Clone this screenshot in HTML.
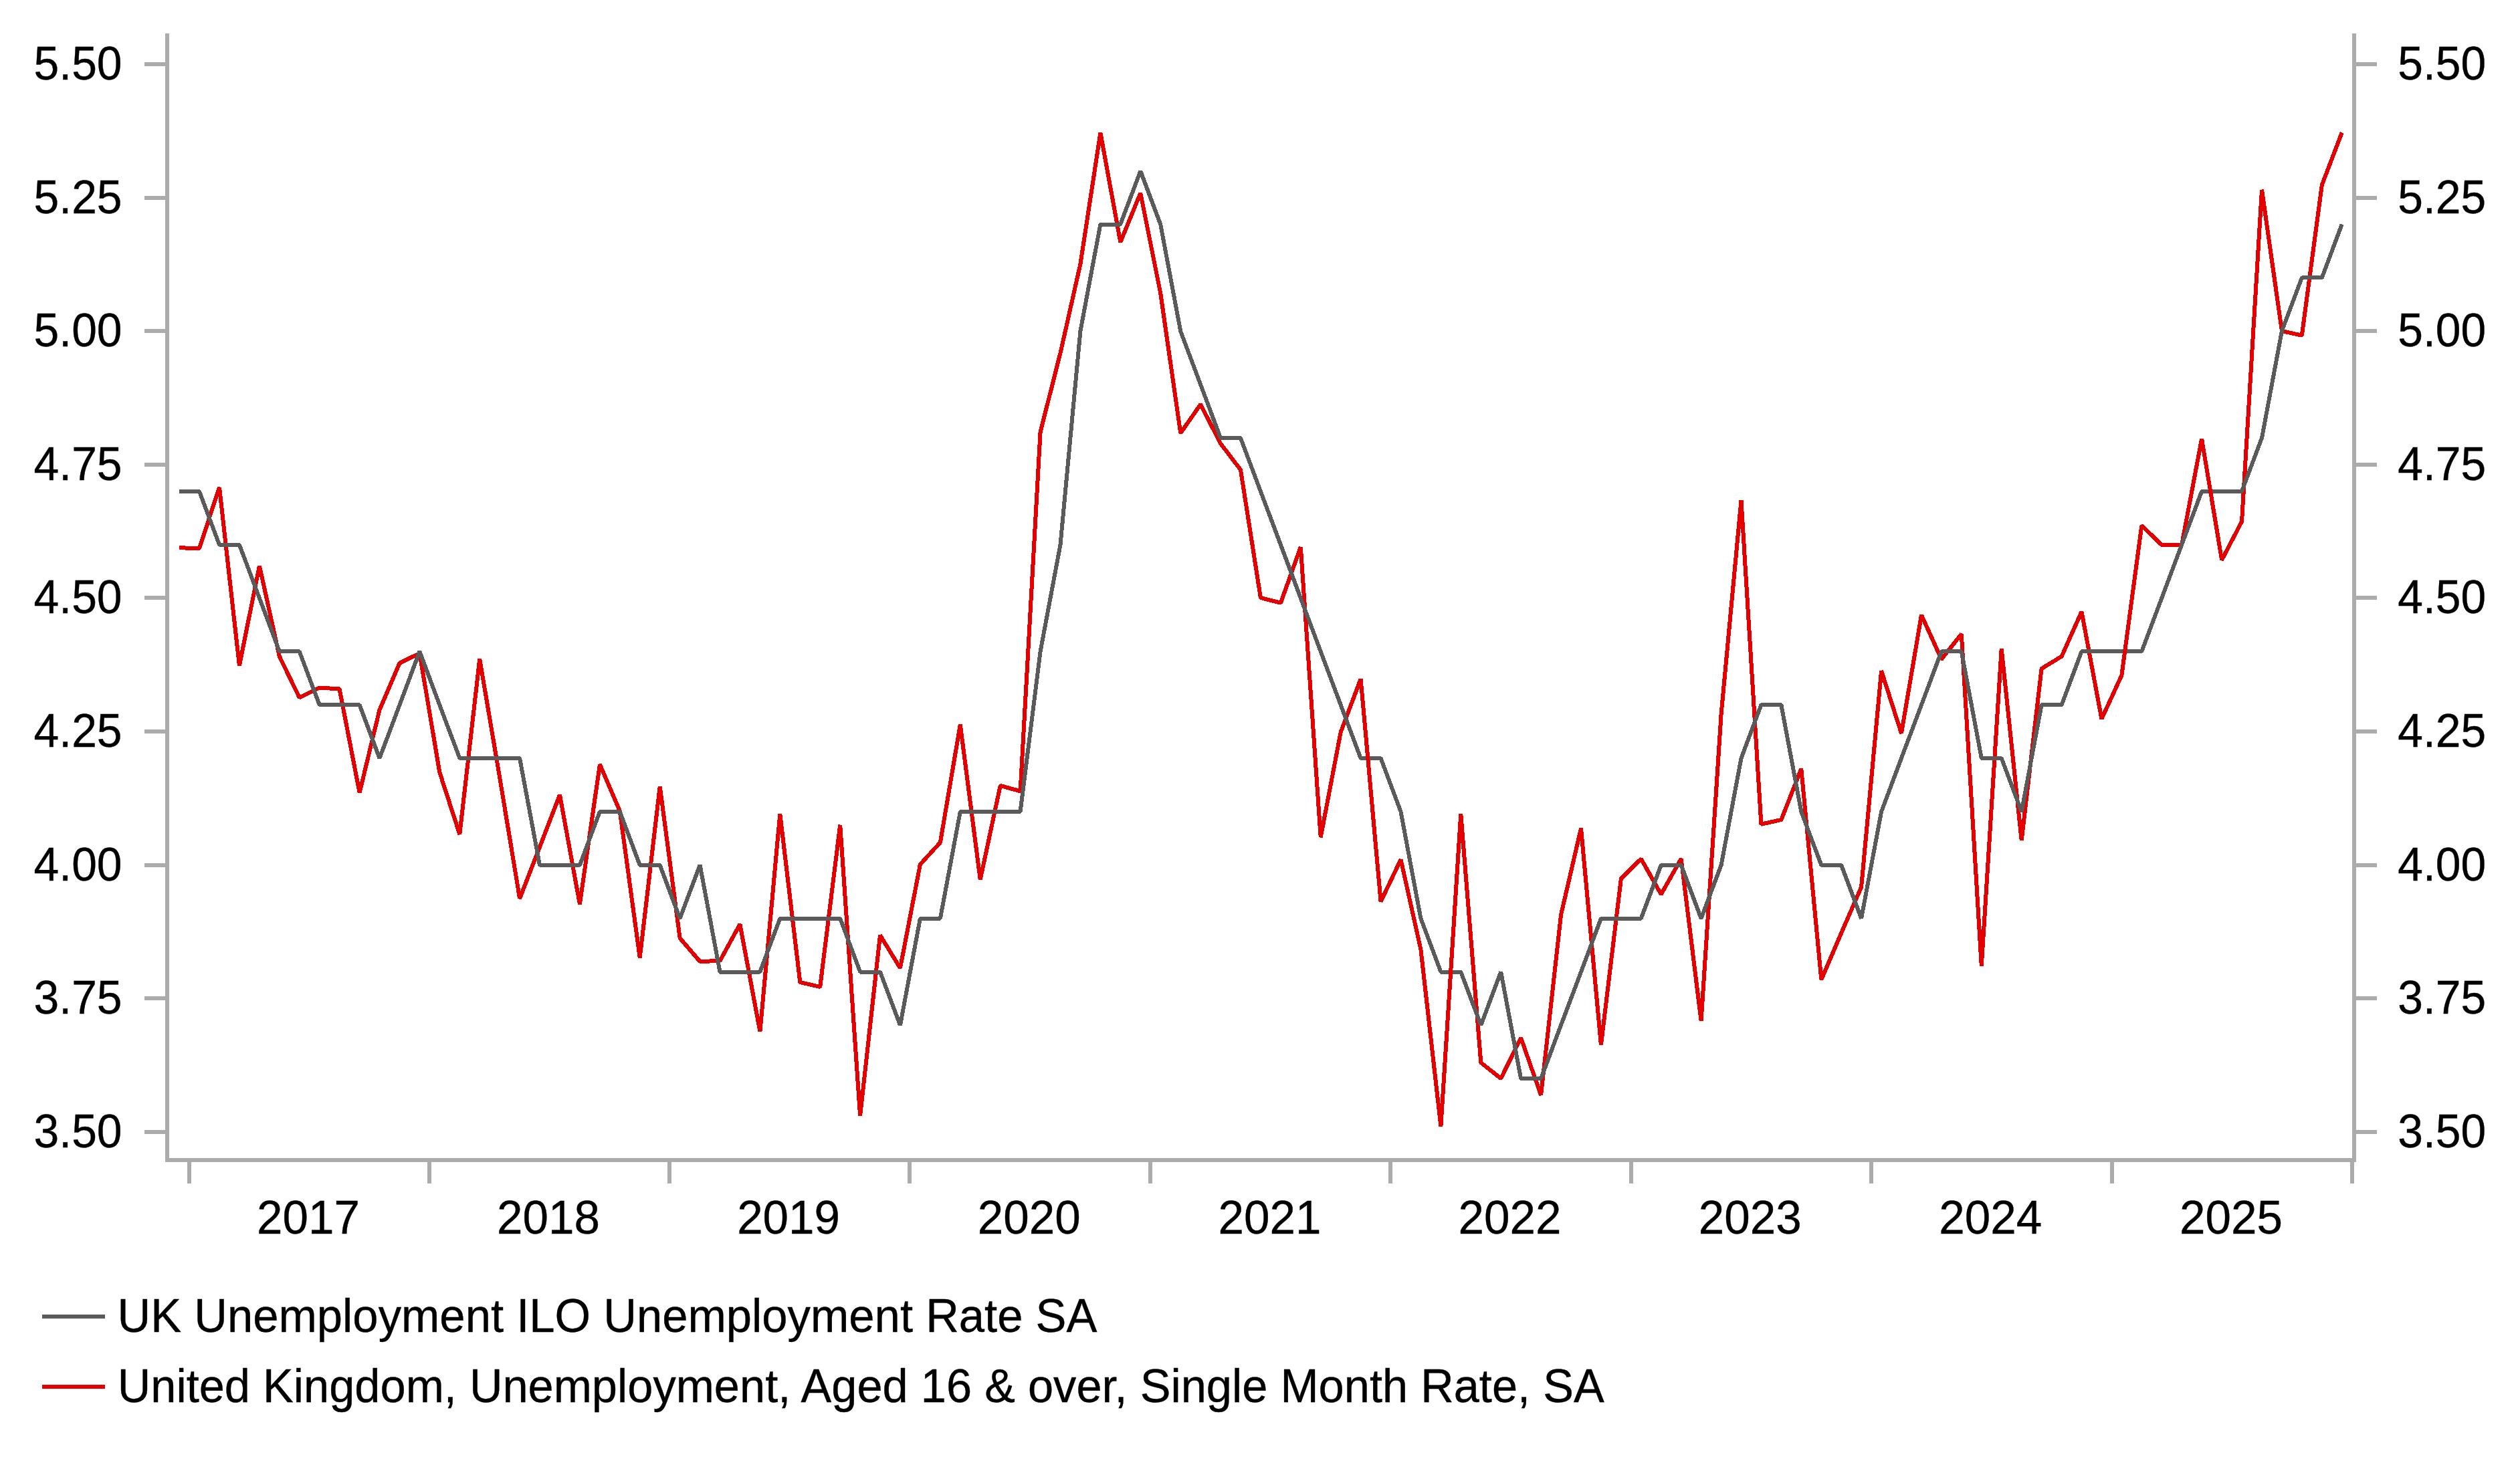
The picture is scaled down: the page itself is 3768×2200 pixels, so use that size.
<!DOCTYPE html>
<html><head><meta charset="utf-8"><title>UK Unemployment</title>
<style>html,body{margin:0;padding:0;background:#fff}body{width:3768px;height:2200px;overflow:hidden}svg{display:block}text{font-family:"Liberation Sans",sans-serif;font-size:69px;fill:#000;stroke:#000;stroke-width:0.4px}</style>
</head><body>
<svg width="3768" height="2200" viewBox="0 0 3768 2200">
<rect x="0" y="0" width="3768" height="2200" fill="#ffffff"/>
<polyline points="268.1,819.3 298.0,820.0 328.0,729.0 357.9,995.5 387.9,846.2 417.8,981.7 447.7,1043.3 477.7,1028.5 507.6,1030.5 537.6,1185.5 567.5,1061.7 597.5,991.7 627.4,977.0 657.3,1155.0 687.3,1247.8 717.2,985.5 747.2,1163.0 777.1,1343.8 807.0,1266.7 837.0,1188.8 866.9,1352.2 896.9,1143.2 926.8,1213.0 956.7,1432.2 986.7,1176.2 1016.6,1403.0 1046.6,1438.0 1076.5,1437.0 1106.4,1382.2 1136.4,1542.8 1166.3,1217.2 1196.3,1469.0 1226.2,1476.0 1256.2,1233.8 1286.1,1668.8 1316.0,1398.8 1346.0,1447.8 1375.9,1292.7 1405.9,1260.0 1435.8,1083.8 1465.7,1315.5 1495.7,1175.0 1525.6,1183.3 1555.6,646.0 1585.5,528.0 1615.4,395.0 1645.4,198.5 1675.3,362.2 1705.3,288.8 1735.2,438.3 1765.2,647.8 1795.1,604.8 1825.0,663.3 1855.0,702.7 1884.9,894.0 1914.9,901.7 1944.8,818.2 1974.7,1252.2 2004.7,1095.0 2034.6,1015.5 2064.6,1348.5 2094.5,1285.5 2124.4,1420.0 2154.4,1684.5 2184.3,1217.2 2214.3,1589.3 2244.2,1613.0 2274.1,1552.2 2304.1,1637.8 2334.0,1368.3 2364.0,1238.8 2393.9,1562.8 2423.9,1314.0 2453.8,1284.5 2483.7,1337.5 2513.7,1284.3 2543.6,1526.8 2573.6,1068.0 2603.5,748.2 2633.4,1232.7 2663.4,1226.0 2693.3,1149.8 2723.3,1465.2 2753.2,1395.3 2783.1,1326.7 2813.1,1003.2 2843.0,1096.8 2873.0,919.8 2902.9,986.0 2932.8,948.2 2962.8,1444.5 2992.7,970.5 3022.7,1256.8 3052.6,1000.0 3082.6,981.7 3112.5,914.8 3142.4,1075.2 3172.4,1010.0 3202.3,786.0 3232.3,815.0 3262.2,815.0 3292.1,656.2 3322.1,837.5 3352.0,780.0 3382.0,283.8 3411.9,495.0 3441.8,501.7 3471.8,276.7 3501.7,198.3" fill="none" stroke="#e40000" stroke-width="6" stroke-linejoin="bevel" stroke-linecap="butt" shape-rendering="crispEdges"/>
<polyline points="268.1,734.8 298.0,734.8 328.0,814.7 357.9,814.7 387.9,894.5 417.8,974.3 447.7,974.3 477.7,1054.2 507.6,1054.2 537.6,1054.2 567.5,1134.0 597.5,1054.2 627.4,974.3 657.3,1054.2 687.3,1134.0 717.2,1134.0 747.2,1134.0 777.1,1134.0 807.0,1293.8 837.0,1293.8 866.9,1293.8 896.9,1213.9 926.8,1213.9 956.7,1293.8 986.7,1293.8 1016.6,1373.6 1046.6,1293.8 1076.5,1453.5 1106.4,1453.5 1136.4,1453.5 1166.3,1373.6 1196.3,1373.6 1226.2,1373.6 1256.2,1373.6 1286.1,1453.5 1316.0,1453.5 1346.0,1533.3 1375.9,1373.6 1405.9,1373.6 1435.8,1213.9 1465.7,1213.9 1495.7,1213.9 1525.6,1213.9 1555.6,974.3 1585.5,814.7 1615.4,495.2 1645.4,335.5 1675.3,335.5 1705.3,255.7 1735.2,335.5 1765.2,495.2 1795.1,575.1 1825.0,655.0 1855.0,655.0 1884.9,734.8 1914.9,814.7 1944.8,894.5 1974.7,974.3 2004.7,1054.2 2034.6,1134.0 2064.6,1134.0 2094.5,1213.9 2124.4,1373.6 2154.4,1453.5 2184.3,1453.5 2214.3,1533.3 2244.2,1453.5 2274.1,1613.1 2304.1,1613.1 2334.0,1533.3 2364.0,1453.5 2393.9,1373.6 2423.9,1373.6 2453.8,1373.6 2483.7,1293.8 2513.7,1293.8 2543.6,1373.6 2573.6,1293.8 2603.5,1134.0 2633.4,1054.2 2663.4,1054.2 2693.3,1213.9 2723.3,1293.8 2753.2,1293.8 2783.1,1373.6 2813.1,1213.9 2843.0,1134.0 2873.0,1054.2 2902.9,974.3 2932.8,974.3 2962.8,1134.0 2992.7,1134.0 3022.7,1213.9 3052.6,1054.2 3082.6,1054.2 3112.5,974.3 3142.4,974.3 3172.4,974.3 3202.3,974.3 3232.3,894.5 3262.2,814.7 3292.1,734.8 3322.1,734.8 3352.0,734.8 3382.0,655.0 3411.9,495.2 3441.8,415.4 3471.8,415.4 3501.7,335.5" fill="none" stroke="#5a5a5a" stroke-width="6" stroke-linejoin="bevel" stroke-linecap="butt" shape-rendering="crispEdges"/>
<clipPath id="c0"><rect x="2034.6" y="1130.0" width="29.9" height="8"/></clipPath>
<line x1="2034.6" y1="1015.5" x2="2064.6" y2="1348.5" stroke="#e40000" stroke-width="6" clip-path="url(#c0)" shape-rendering="crispEdges"/>
<clipPath id="c1"><rect x="2154.4" y="1449.5" width="29.9" height="8"/></clipPath>
<line x1="2154.4" y1="1684.5" x2="2184.3" y2="1217.2" stroke="#e40000" stroke-width="6" clip-path="url(#c1)" shape-rendering="crispEdges"/>
<clipPath id="c2"><rect x="3172.4" y="970.3" width="29.9" height="8"/></clipPath>
<line x1="3172.4" y1="1010.0" x2="3202.3" y2="786.0" stroke="#e40000" stroke-width="6" clip-path="url(#c2)" shape-rendering="crispEdges"/>
<clipPath id="c3"><rect x="3292.1" y="730.8" width="29.9" height="8"/></clipPath>
<line x1="3292.1" y1="656.2" x2="3322.1" y2="837.5" stroke="#e40000" stroke-width="6" clip-path="url(#c3)" shape-rendering="crispEdges"/>
<g fill="#ababab" shape-rendering="crispEdges">
<rect x="247" y="50" width="6" height="1688"/>
<rect x="3517" y="50" width="6" height="1688"/>
<rect x="247" y="1732" width="3276" height="6"/>
<rect x="216" y="93" width="32" height="6"/>
<rect x="3522" y="93" width="32" height="6"/>
<rect x="216" y="293" width="32" height="6"/>
<rect x="3522" y="293" width="32" height="6"/>
<rect x="216" y="492" width="32" height="6"/>
<rect x="3522" y="492" width="32" height="6"/>
<rect x="216" y="692" width="32" height="6"/>
<rect x="3522" y="692" width="32" height="6"/>
<rect x="216" y="891" width="32" height="6"/>
<rect x="3522" y="891" width="32" height="6"/>
<rect x="216" y="1091" width="32" height="6"/>
<rect x="3522" y="1091" width="32" height="6"/>
<rect x="216" y="1291" width="32" height="6"/>
<rect x="3522" y="1291" width="32" height="6"/>
<rect x="216" y="1490" width="32" height="6"/>
<rect x="3522" y="1490" width="32" height="6"/>
<rect x="216" y="1690" width="32" height="6"/>
<rect x="3522" y="1690" width="32" height="6"/>
<rect x="280" y="1737" width="6" height="33"/>
<rect x="639" y="1737" width="6" height="33"/>
<rect x="998" y="1737" width="6" height="33"/>
<rect x="1357" y="1737" width="6" height="33"/>
<rect x="1717" y="1737" width="6" height="33"/>
<rect x="2076" y="1737" width="6" height="33"/>
<rect x="2436" y="1737" width="6" height="33"/>
<rect x="2795" y="1737" width="6" height="33"/>
<rect x="3155" y="1737" width="6" height="33"/>
<rect x="3514" y="1737" width="6" height="33"/>
</g>
<text transform="translate(182.6,118.9) scale(0.983,1.022)" text-anchor="end">5.50</text>
<text transform="translate(3585.3,118.9) scale(0.983,1.022)">5.50</text>
<text transform="translate(182.6,318.5) scale(0.983,1.022)" text-anchor="end">5.25</text>
<text transform="translate(3585.3,318.5) scale(0.983,1.022)">5.25</text>
<text transform="translate(182.6,518.1) scale(0.983,1.022)" text-anchor="end">5.00</text>
<text transform="translate(3585.3,518.1) scale(0.983,1.022)">5.00</text>
<text transform="translate(182.6,717.8) scale(0.983,1.022)" text-anchor="end">4.75</text>
<text transform="translate(3585.3,717.8) scale(0.983,1.022)">4.75</text>
<text transform="translate(182.6,917.4) scale(0.983,1.022)" text-anchor="end">4.50</text>
<text transform="translate(3585.3,917.4) scale(0.983,1.022)">4.50</text>
<text transform="translate(182.6,1117.0) scale(0.983,1.022)" text-anchor="end">4.25</text>
<text transform="translate(3585.3,1117.0) scale(0.983,1.022)">4.25</text>
<text transform="translate(182.6,1316.7) scale(0.983,1.022)" text-anchor="end">4.00</text>
<text transform="translate(3585.3,1316.7) scale(0.983,1.022)">4.00</text>
<text transform="translate(182.6,1516.3) scale(0.983,1.022)" text-anchor="end">3.75</text>
<text transform="translate(3585.3,1516.3) scale(0.983,1.022)">3.75</text>
<text transform="translate(182.6,1715.9) scale(0.983,1.022)" text-anchor="end">3.50</text>
<text transform="translate(3585.3,1715.9) scale(0.983,1.022)">3.50</text>
<text transform="translate(460.9,1845.0) scale(1.003,1.03)" text-anchor="middle">2017</text>
<text transform="translate(820.0,1845.0) scale(1.003,1.03)" text-anchor="middle">2018</text>
<text transform="translate(1179.1,1845.0) scale(1.003,1.03)" text-anchor="middle">2019</text>
<text transform="translate(1538.8,1845.0) scale(1.003,1.03)" text-anchor="middle">2020</text>
<text transform="translate(1898.4,1845.0) scale(1.003,1.03)" text-anchor="middle">2021</text>
<text transform="translate(2257.5,1845.0) scale(1.003,1.03)" text-anchor="middle">2022</text>
<text transform="translate(2616.7,1845.0) scale(1.003,1.03)" text-anchor="middle">2023</text>
<text transform="translate(2976.3,1845.0) scale(1.003,1.03)" text-anchor="middle">2024</text>
<text transform="translate(3335.9,1845.0) scale(1.003,1.03)" text-anchor="middle">2025</text>
<rect x="63" y="1966" width="94" height="6" fill="#5a5a5a"/>
<rect x="63" y="2071" width="94" height="6" fill="#e40000"/>
<text transform="translate(175.5,1992.2) scale(0.9976,1.015)">UK Unemployment ILO Unemployment Rate SA</text>
<text transform="translate(175.7,2096.9) scale(0.9943,1.015)">United Kingdom, Unemployment, Aged 16 &amp; over, Single Month Rate, SA</text>
</svg>
</body></html>
